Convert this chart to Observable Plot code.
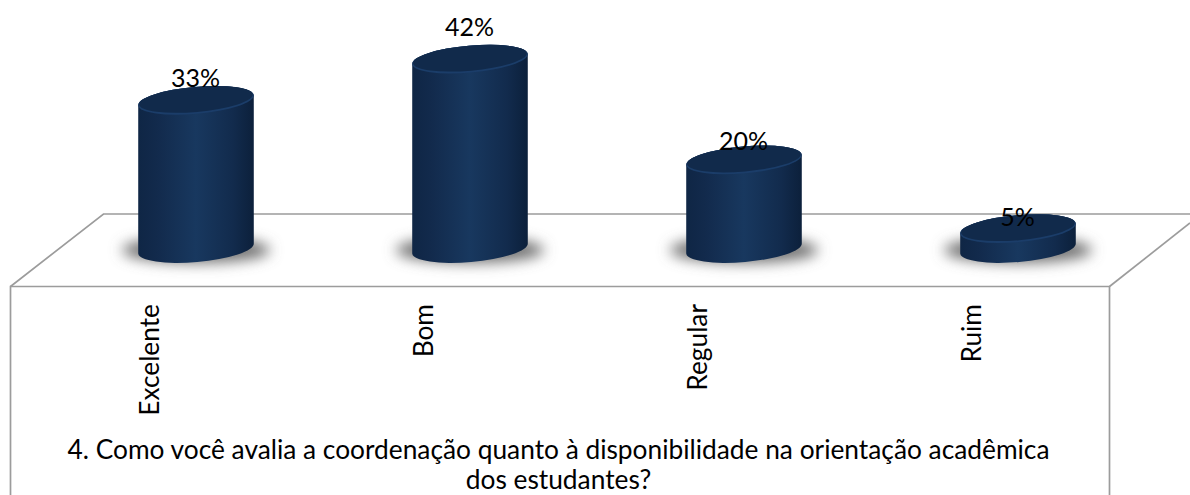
<!DOCTYPE html>
<html>
<head>
<meta charset="utf-8">
<script src="https://cdn.jsdelivr.net/npm/d3@7"></script>
<script src="https://cdn.jsdelivr.net/npm/@observablehq/plot@0.6"></script>
<style>html,body{margin:0;padding:0;background:#fff}svg{display:block}</style>
</head>
<body>
<div id="chart"></div>
<script>
const categories = ["Excelente", "Bom", "Regular", "Ruim"];
const percentages = [33, 42, 20, 5];
const titleLines = [
  "4. Como você avalia a coordenação quanto à disponibilidade na orientação acadêmica",
  "dos estudantes?"
];
const rows = categories.map((category, i) => ({category, value: percentages[i]}));

const NS = "http://www.w3.org/2000/svg";
const el = (name, attrs, parent) => {
  const n = document.createElementNS(NS, name);
  for (const k in attrs) n.setAttribute(k, attrs[k]);
  if (parent) parent.appendChild(n);
  return n;
};

// Decorative 3D floor and front panel
function floorMark() {
  const g = el("g", {fill: "none", stroke: "#9c9c9c", "stroke-width": 1.7});
  el("path", {d: "M10.5,495V286.5H1109.5V495"}, g);
  el("path", {d: "M10.5,286.5L103.5,214H1190"}, g);
  el("path", {d: "M1109.5,286.5L1190,223"}, g);
  return g;
}

const cylinderBase = 0.65;
const labelLift = [4.8, 6.9, 4.1, 2.4];

// Draws each bar as a cylinder placed by Plot's x and y scales
function cylinders(index, scales) {
  const g = el("g", {});
  const defs = el("defs", {}, g);
  const body = el("linearGradient", {id: "cylBody", x1: 0, x2: 1, y1: 0, y2: 0}, defs);
  [[0, "#0f2645"], [0.16, "#122a4c"], [0.5, "#18385f"], [0.82, "#122b4d"], [1, "#0c203b"]]
    .forEach(([o, c]) => el("stop", {offset: o, "stop-color": c}, body));
  const blur = el("filter", {id: "cylShadow", x: "-30%", y: "-80%", width: "160%", height: "260%"}, defs);
  el("feGaussianBlur", {stdDeviation: 7}, blur);

  const rx = 58, ry = 13.5, tilt = -5;
  const ex = rx * Math.cos(tilt * Math.PI / 180), ey = rx * Math.sin(tilt * Math.PI / 180);
  const bw = typeof scales.x.bandwidth === "function" ? scales.x.bandwidth() : scales.x.bandwidth;
  for (const i of index) {
    const cx = scales.x(rows[i].category) + bw / 2;
    const top = scales.y(rows[i].value), base = scales.y(cylinderBase);
    el("ellipse", {cx, cy: base + 1.5, rx: 74, ry: 13, fill: "#707070", filter: "url(#cylShadow)"}, g);
    el("path", {
      fill: "url(#cylBody)",
      d: `M${cx - ex},${top - ey}L${cx - ex},${base - ey}` +
         `A${rx},${ry} ${tilt} 0 0 ${cx + ex},${base + ey}` +
         `L${cx + ex},${top + ey}A${rx},${ry} ${tilt} 0 0 ${cx - ex},${top - ey}Z`
    }, g);
    el("ellipse", {cx, cy: top, rx, ry, fill: "#1b3d69", transform: `rotate(${tilt} ${cx} ${top})`}, g);
    el("ellipse", {cx, cy: top - 0.9, rx: rx - 1, ry: ry - 1, fill: "#112a4b",
      transform: `rotate(${tilt} ${cx} ${top})`}, g);
  }
  return g;
}

const chart = Plot.plot({
  width: 1190,
  height: 495,
  marginTop: 0,
  marginRight: 0,
  marginBottom: 243.5,
  marginLeft: 0,
  style: {fontFamily: "Lato, 'Open Sans', sans-serif", background: "#fff", color: "#000"},
  x: {type: "band", domain: categories, range: [57.2, 1156], padding: 0, axis: null},
  y: {domain: [0, 54.9], axis: null},
  marks: [
    floorMark,
    Plot.barY(rows, {x: "category", y1: () => cylinderBase, y2: "value", fill: "#17375e", render: cylinders}),
    Plot.axisX({
      anchor: "bottom", tickSize: 0, tickRotate: -90, tickPadding: 0, label: null,
      textAnchor: "end", dx: -46, dy: 52, fontSize: 26.3, fill: "#000"
    }),
    Plot.text(rows, {
      x: "category",
      y: (d, i) => d.value + labelLift[i],
      text: d => `${d.value}%`,
      dx: -1, fontSize: 25, fill: "#000"
    }),
    Plot.text([titleLines.join("\n")], {
      frameAnchor: "bottom", lineAnchor: "top", dx: -37, dy: 185,
      lineHeight: 1.16, fontSize: 26.3, fill: "#000", text: d => d
    })
  ]
});
document.getElementById("chart").appendChild(chart);
</script>
</body>
</html>
